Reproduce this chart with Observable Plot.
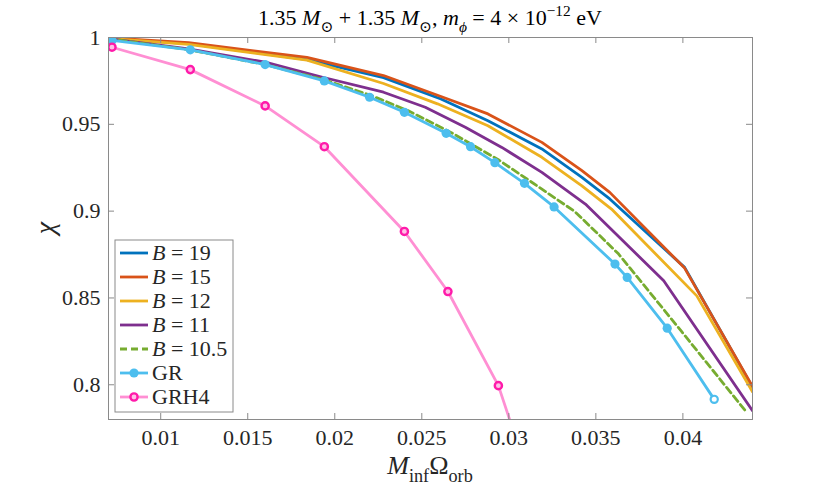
<!DOCTYPE html>
<html><head><meta charset="utf-8">
<script src="https://cdn.jsdelivr.net/npm/d3@7"></script>
<script src="https://cdn.jsdelivr.net/npm/@observablehq/plot@0.6"></script>
<style>body{margin:0;background:#fff} svg{display:block} svg text{font-family:"Liberation Serif","DejaVu Serif",serif}</style>
</head><body><div id="chart"></div>
<script>
// ---- tick labels ----
const xTicks = [0.01, 0.015, 0.02, 0.025, 0.03, 0.035, 0.04];
const yTicks = [0.8, 0.85, 0.9, 0.95, 1];

// ---- series values ----
const xB19 = [0.0070, 0.0116, 0.0184, 0.0228, 0.0261, 0.0288, 0.0319, 0.0342, 0.0358, 0.0401, 0.0440];
const yB19 = [0.9993, 0.9965, 0.9873, 0.9769, 0.9646, 0.9521, 0.9358, 0.9194, 0.9070, 0.8676, 0.7986];

const xB15 = [0.0070, 0.0116, 0.0184, 0.0228, 0.0261, 0.0288, 0.0319, 0.0342, 0.0358, 0.0401, 0.0440];
const yB15 = [0.9998, 0.9971, 0.9885, 0.9781, 0.9660, 0.9560, 0.9396, 0.9233, 0.9108, 0.8672, 0.7990];

const xB12 = [0.0070, 0.0116, 0.0184, 0.0228, 0.0259, 0.0288, 0.0319, 0.0342, 0.0359, 0.0408, 0.0440];
const yB12 = [0.9995, 0.9960, 0.9870, 0.9735, 0.9618, 0.9492, 0.9310, 0.9146, 0.9012, 0.8512, 0.7960];

const xB11 = [0.0070, 0.0116, 0.0160, 0.0193, 0.0228, 0.0252, 0.0275, 0.0296, 0.0319, 0.0344, 0.0389, 0.0440];
const yB11 = [0.9994, 0.9935, 0.9858, 0.9771, 0.9685, 0.9598, 0.9483, 0.9367, 0.9223, 0.9041, 0.8599, 0.7850];

const xB105 = [0.0070, 0.0117, 0.0160, 0.0194, 0.0221, 0.0242, 0.0267, 0.0280, 0.0294, 0.0311, 0.0338, 0.0363, 0.0399, 0.0436];
const yB105 = [0.9994, 0.9928, 0.9844, 0.9756, 0.9666, 0.9579, 0.9452, 0.9377, 0.9296, 0.9181, 0.8997, 0.8754, 0.8310, 0.7849];

const xGR = [0.0072, 0.0117, 0.0160, 0.0194, 0.0220, 0.0240, 0.0264, 0.0278, 0.0292, 0.0309, 0.0326, 0.0361, 0.0368, 0.0391, 0.0418];
const yGR = [0.9983, 0.9929, 0.9844, 0.9750, 0.9656, 0.9569, 0.9448, 0.9371, 0.9279, 0.9160, 0.9024, 0.8695, 0.8618, 0.8326, 0.7916];

const xGRH4 = [0.0072, 0.0117, 0.0160, 0.0194, 0.0240, 0.0265, 0.0294, 0.0325];
const yGRH4 = [0.9944, 0.9815, 0.9606, 0.9371, 0.8883, 0.8537, 0.7995, 0.7060];

const names = ["B = 19", "B = 15", "B = 12", "B = 11", "B = 10.5", "GR", "GRH4"];
const colors = ["#0072BD", "#D95319", "#EDB120", "#7E2F8E", "#77AC30", "#4DBEEE", "#FF8FD3"];
const markerColors = [null, null, null, null, null, "#4DBEEE", "#FF1AAA"];
const dashes = [null, null, null, null, "7,4", null, null];
const xs = [xB19, xB15, xB12, xB11, xB105, xGR, xGRH4];
const ys = [yB19, yB15, yB12, yB11, yB105, yGR, yGRH4];

const series = names.map((name, k) => ({
  name, color: colors[k], marker: markerColors[k], dash: dashes[k],
  data: xs[k].map((x, i) => ({x, y: ys[k][i]}))
}));

// ---- layout ----
const W = 830, H = 489, mL = 108, mR = 78, mT = 37, mB = 70;
const fw = W - mL - mR, fh = H - mT - mB;
const font = "Liberation Serif";
const axisGrey = "#8a8a8a";
const textCol = "#262626";
const lw0 = 2.8;

const marks = [];
for (const s of series) {
  marks.push(Plot.line(s.data, {x: "x", y: "y", stroke: s.color, strokeWidth: lw0,
    strokeDasharray: s.dash, strokeLinejoin: "round", clip: true}));
}
const gr = series[5], grh4 = series[6];
marks.push(Plot.dot(gr.data.slice(0, -1), {x: "x", y: "y", r: 4.6, fill: gr.marker, clip: true}));
marks.push(Plot.dot(gr.data.slice(-1), {x: "x", y: "y", r: 3.6, fill: "white", stroke: gr.marker, strokeWidth: 2.2, clip: true}));
marks.push(Plot.dot(grh4.data, {x: "x", y: "y", r: 3.6, fill: "#FFC0E6", stroke: grh4.marker, strokeWidth: 2.4, clip: true}));

marks.push(Plot.frame({stroke: axisGrey, strokeWidth: 1}));
marks.push(Plot.tickX(xTicks, {x: d => d, insetTop: fh - 6, stroke: axisGrey}));
marks.push(Plot.tickX(xTicks, {x: d => d, insetBottom: fh - 6, stroke: axisGrey}));
marks.push(Plot.tickY(yTicks, {y: d => d, insetRight: fw - 6, stroke: axisGrey}));
marks.push(Plot.tickY(yTicks, {y: d => d, insetLeft: fw - 6, stroke: axisGrey}));

marks.push(Plot.axisX(xTicks, {tickSize: 0, tickPadding: 10, fontSize: 22, fontFamily: font,
  fill: textCol, label: null, tickFormat: d => String(d)}));
marks.push(Plot.axisY(yTicks, {tickSize: 0, tickPadding: 8, fontSize: 22, fontFamily: font,
  fill: textCol, label: null, tickFormat: d => String(d)}));

const plot = Plot.plot({
  width: W, height: H, marginLeft: mL, marginRight: mR, marginTop: mT, marginBottom: mB,
  style: {fontFamily: font, background: "#fff"},
  x: {domain: [0.007, 0.044]},
  y: {domain: [0.78, 1]},
  marks
});
document.getElementById("chart").appendChild(plot);

const svg = d3.select(plot);
function rich(sel, runs, size) {
  let shift = 0;
  for (const r of runs) {
    const target = r.sub ? size * 0.3 : r.sup ? -size * 0.42 : 0;
    const ts = sel.append("tspan").text(r.t).attr("dy", target - shift);
    shift = target;
    if (r.sub || r.sup) ts.attr("font-size", size * 0.7);
    if (r.i) ts.attr("font-style", "italic");
  }
}

// title
const title = svg.append("text").attr("x", mL + fw / 2).attr("y", 25)
  .attr("text-anchor", "middle").attr("font-size", 22).attr("fill", "#000");
rich(title, [
  {t: "1.35 "}, {t: "M", i: true}, {t: "⊙", sub: true}, {t: " + 1.35 "}, {t: "M", i: true}, {t: "⊙", sub: true},
  {t: ", "}, {t: "m", i: true}, {t: "ϕ", i: true, sub: true}, {t: " = 4 × 10"}, {t: "−12", sup: true}, {t: " eV"}
], 22);

// x label
const xl = svg.append("text").attr("x", mL + fw / 2).attr("y", 474)
  .attr("text-anchor", "middle").attr("font-size", 26).attr("fill", textCol);
rich(xl, [{t: "M", i: true}, {t: "inf", sub: true}, {t: "Ω"}, {t: "orb", sub: true}], 26);

// y label
svg.append("text").attr("transform", `translate(44,${mT + fh / 2}) rotate(-90)`)
  .attr("text-anchor", "middle").attr("dominant-baseline", "central")
  .attr("font-size", 28).attr("font-style", "italic").attr("fill", textCol)
  .text("χ");

// legend
const lg = svg.append("g").attr("text-anchor", "start");
const lx = 115, ly = 240, lw = 118, lh = 172, row0 = 253, step = 24;
lg.append("rect").attr("x", lx).attr("y", ly).attr("width", lw).attr("height", lh)
  .attr("fill", "white").attr("stroke", axisGrey).attr("stroke-width", 1);
series.forEach((s, k) => {
  const yy = row0 + k * step;
  lg.append("line").attr("x1", 120).attr("x2", 148).attr("y1", yy).attr("y2", yy)
    .attr("stroke", s.color).attr("stroke-width", lw0).attr("stroke-dasharray", s.dash);
  if (k === 5) lg.append("circle").attr("cx", 134).attr("cy", yy).attr("r", 4.6).attr("fill", s.marker);
  if (k === 6) lg.append("circle").attr("cx", 134).attr("cy", yy).attr("r", 3.6).attr("fill", "#FFC0E6")
    .attr("stroke", s.marker).attr("stroke-width", 2.4);
  const t = lg.append("text").attr("x", 152).attr("y", yy + 7).attr("text-anchor", "start")
    .attr("font-size", 22).attr("fill", textCol);
  if (s.name.startsWith("B")) {
    rich(t, [{t: "B", i: true}, {t: s.name.slice(1)}], 22);
  } else {
    t.text(s.name);
  }
});
</script>
</body></html>
